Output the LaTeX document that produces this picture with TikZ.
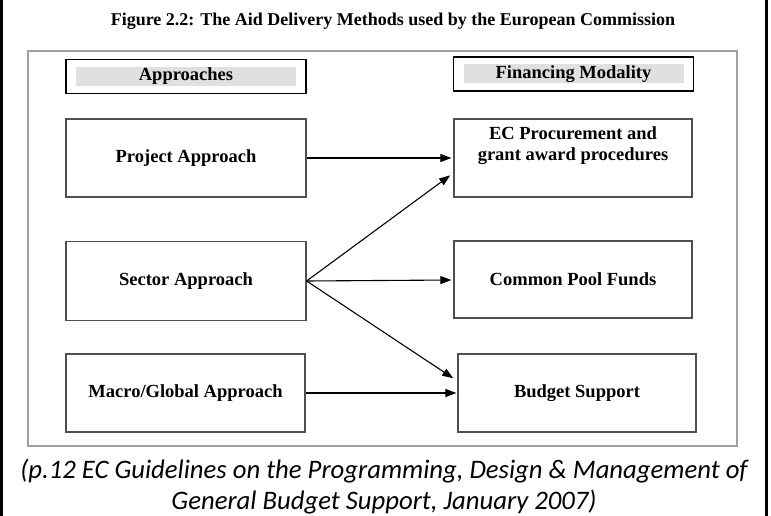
\documentclass[tikz,border=0pt]{standalone}
\usepackage{fontspec}
\setmainfont{Liberation Serif}
\newfontfamily\capfont{Carlito}
\usetikzlibrary{arrows.meta,positioning}
\definecolor{hdrgray}{HTML}{E0E0E0}
\definecolor{framegray}{HTML}{A0A0A0}
\definecolor{boxedge}{HTML}{505050}
\tikzset{
  boxfont/.style={font=\fontsize{18.5bp}{21bp}\selectfont\bfseries},
  box/.style={draw=boxedge,line width=1.2bp,minimum width=240bp,minimum height=78bp,inner sep=0pt,boxfont},
  hdr/.style={draw=black,line width=1.2bp,minimum width=240bp,minimum height=34bp,inner sep=0pt},
  band/.style={fill=hdrgray,minimum width=220bp,minimum height=19bp,inner sep=0pt,boxfont},
  arr/.style={draw=black,line width=1.1bp,-{Triangle[length=11bp,width=8bp]}},
  lbl/.style={inner sep=0pt,boxfont,align=center}
}
\begin{document}
\begin{tikzpicture}[x=1bp,y=-1bp]
\useasboundingbox (0,0) rectangle (771,516);
\fill[white] (0,0) rectangle (771,516);
% outer side rules
\draw[black,line width=3bp] (1.5,0) -- (1.5,516);
\draw[black,line width=3bp] (766.5,0) -- (766.5,516);
% title
\node[inner sep=0pt,font=\fontsize{18bp}{21bp}\selectfont\bfseries] (title) at (393,21) {Figure 2.2: The Aid Delivery Methods used by the European Commission};
% inner frame
\draw[framegray,line width=2bp] (28,51) rectangle (737,446);
% headers
\node[hdr] (happ) at (186,76.5) {};
\node[band] (bapp) at (186,76.5) {Approaches};
\node[hdr] (hfin) at (573.5,74) {};
\node[band] (bfin) at (573.5,74) {Financing Modality};
% left boxes
\node[box] (proj) at (186,158) {Project Approach};
\node[box,minimum height=79bp] (sec) at (186,281) {Sector Approach};
\node[box,minimum width=239bp] (mac) at (185.5,393) {Macro/Global Approach};
% right boxes
\node[box,minimum width=238bp] (ec) at (573,158) {};
\node[lbl] (ectxt) at ([yshift=-27bp]ec.north) {EC Procurement and\\grant award procedures};
\node[box,minimum width=238bp,minimum height=77bp] (pool) at (573,279.5) {Common Pool Funds};
\node[box,minimum width=238bp] (bud) at (577,393) {Budget Support};
% arrows
\draw[arr,shorten >=2bp] (proj.east) -- (ec.west);
\draw[arr,shorten >=4bp] (sec.east) -- ([yshift=-15bp]ec.west);
\draw[arr,shorten >=2bp] (sec.east) -- ([yshift=-0.5bp]pool.west);
\draw[arr,shorten >=5bp] (sec.east) -- ([yshift=12bp]bud.west);
\draw[arr,shorten >=1bp] (mac.east) -- (bud.west);
% caption
\node[inner sep=0pt,font=\capfont\itshape\fontsize{26.7bp}{31bp}\selectfont,align=center] (cap) at (384,486.5) {(p.12 EC Guidelines on the Programming, Design \& Management of\\General Budget Support, January 2007)};
\end{tikzpicture}
\end{document}
